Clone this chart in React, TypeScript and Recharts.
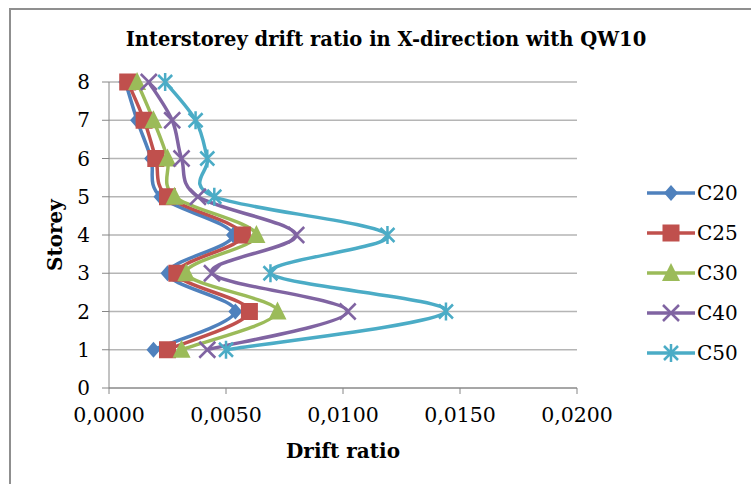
import React from "react";
import { LineChart, Line, XAxis, YAxis, CartesianGrid } from "recharts";

const storeys = [1, 2, 3, 4, 5, 6, 7, 8];
const c20 = [0.0019, 0.0054, 0.0025, 0.0053, 0.0022, 0.0018, 0.0012, 0.0007];
const c25 = [0.0025, 0.006, 0.0029, 0.0057, 0.0025, 0.002, 0.0015, 0.0008];
const c30 = [0.0031, 0.0072, 0.0033, 0.0063, 0.0028, 0.0025, 0.0019, 0.0012];
const c40 = [0.0042, 0.0102, 0.0044, 0.008, 0.0038, 0.0031, 0.0027, 0.0017];
const c50 = [0.005, 0.0144, 0.0069, 0.0119, 0.0045, 0.0042, 0.0037, 0.0024];

const xTicks = [0, 0.005, 0.01, 0.015, 0.02];
const yTicks = [0, 1, 2, 3, 4, 5, 6, 7, 8];

const SERIES = [
  { key: "c20", name: "C20", values: c20, color: "#4F81BD", marker: "diamond" },
  { key: "c25", name: "C25", values: c25, color: "#C0504D", marker: "square" },
  { key: "c30", name: "C30", values: c30, color: "#9BBB59", marker: "triangle" },
  { key: "c40", name: "C40", values: c40, color: "#8064A2", marker: "x" },
  { key: "c50", name: "C50", values: c50, color: "#4BACC6", marker: "star" },
];

const data = storeys.map((s, i) => {
  const row: any = { storey: s };
  SERIES.forEach((ser) => (row[ser.key] = ser.values[i]));
  return row;
});

const FONT = "'DejaVu Serif', serif";
const AXIS_GREY = "#868686";

// excel style smoothing (uniform catmull-rom as bezier)
const excelSmooth = (context: any) => {
  let pts: number[][] = [];
  return {
    areaStart() {},
    areaEnd() {},
    lineStart() {
      pts = [];
    },
    point(x: number, y: number) {
      pts.push([+x, +y]);
    },
    lineEnd() {
      if (!pts.length) return;
      context.moveTo(pts[0][0], pts[0][1]);
      for (let i = 0; i < pts.length - 1; i++) {
        const p0 = pts[Math.max(i - 1, 0)];
        const p1 = pts[i];
        const p2 = pts[i + 1];
        const p3 = pts[Math.min(i + 2, pts.length - 1)];
        context.bezierCurveTo(
          p1[0] + (p2[0] - p0[0]) / 6,
          p1[1] + (p2[1] - p0[1]) / 6,
          p2[0] - (p3[0] - p1[0]) / 6,
          p2[1] - (p3[1] - p1[1]) / 6,
          p2[0],
          p2[1]
        );
      }
    },
  };
};

function Marker({ kind, color, cx, cy }: any) {
  if (cx == null || cy == null) return null;
  switch (kind) {
    case "diamond":
      return (
        <polygon
          points={`${cx},${cy - 8} ${cx + 7},${cy} ${cx},${cy + 8} ${cx - 7},${cy}`}
          fill={color}
        />
      );
    case "square":
      return <rect x={cx - 8.5} y={cy - 8.5} width={17} height={17} fill={color} />;
    case "triangle":
      return (
        <polygon
          points={`${cx},${cy - 10} ${cx + 9},${cy + 8} ${cx - 9},${cy + 8}`}
          fill={color}
        />
      );
    case "x":
      return (
        <path
          d={`M${cx - 8},${cy - 8}L${cx + 8},${cy + 8}M${cx - 8},${cy + 8}L${cx + 8},${cy - 8}`}
          stroke={color}
          strokeWidth={2.5}
        />
      );
    default:
      return (
        <path
          d={`M${cx - 7},${cy - 7}L${cx + 7},${cy + 7}M${cx - 7},${cy + 7}L${cx + 7},${cy - 7}M${cx},${cy - 9}L${cx},${cy + 9}`}
          stroke={color}
          strokeWidth={2.5}
        />
      );
  }
}

const fmt = (v: number) => v.toFixed(4).replace(".", ",");

const LegendBox = () => (
  <div
    style={{
      position: "absolute",
      left: 646,
      top: 173,
      fontFamily: FONT,
      fontSize: 20,
      color: "#000",
    }}
  >
    {SERIES.map((s) => (
      <div key={s.key} style={{ display: "flex", alignItems: "center", height: 40 }}>
        <svg width={50} height={20}>
          <line x1={1} y1={10} x2={49} y2={10} stroke={s.color} strokeWidth={3.5} />
          <Marker kind={s.marker} color={s.color} cx={25} cy={10} />
        </svg>
        <span style={{ marginLeft: 1 }}>{s.name}</span>
      </div>
    ))}
  </div>
);

export default function App() {
  return (
    <div
      style={{
        position: "fixed",
        left: 0,
        top: 0,
        width: 751,
        height: 484,
        background: "#fff",
        overflow: "hidden",
      }}
    >
      <div
        style={{
          position: "absolute",
          left: 9,
          top: 8,
          width: 800,
          height: 600,
          borderLeft: "2px solid #8f8f8f",
          borderTop: "2px solid #8f8f8f",
        }}
      />
      <div
        style={{
          position: "absolute",
          left: 0,
          width: 751,
          top: 28,
          textAlign: "center",
          paddingLeft: 21,
          boxSizing: "border-box",
          fontFamily: FONT,
          fontWeight: "bold",
          fontSize: 19.5,
          color: "#000",
        }}
      >
        Interstorey drift ratio in X-direction with QW10
      </div>
      <div
        style={{
          position: "absolute",
          left: 55,
          top: 235,
          transform: "translate(-50%, -50%) rotate(-90deg)",
          fontFamily: FONT,
          fontWeight: "bold",
          fontSize: 20,
          whiteSpace: "nowrap",
        }}
      >
        Storey
      </div>
      <div
        style={{
          position: "absolute",
          left: 343,
          top: 451,
          transform: "translate(-50%, -50%)",
          fontFamily: FONT,
          fontWeight: "bold",
          fontSize: 20,
          whiteSpace: "nowrap",
        }}
      >
        Drift ratio
      </div>
      <LineChart
        width={751}
        height={484}
        data={data}
        layout="vertical"
        margin={{ top: 82, right: 174, bottom: 0, left: 0 }}
        style={{ position: "absolute", left: 0, top: 0 }}
      >
        <CartesianGrid vertical={false} stroke="#b5b5b5" strokeWidth={1.5} />
        <XAxis
          type="number"
          domain={[0, 0.02]}
          ticks={xTicks}
          tickFormatter={fmt}
          height={96}
          stroke={AXIS_GREY}
          tickSize={6}
          tickMargin={13}
          tick={{ fill: "#000", fontFamily: FONT, fontSize: 20.5 }}
        />
        <YAxis
          type="number"
          dataKey="storey"
          domain={[0, 8]}
          ticks={yTicks}
          reversed
          width={109}
          stroke={AXIS_GREY}
          tickSize={7}
          tickMargin={12}
          tick={{ fill: "#000", fontFamily: FONT, fontSize: 20 }}
        />
        {SERIES.map((s) => (
          <Line
            key={s.key}
            dataKey={s.key}
            name={s.name}
            type={excelSmooth as any}
            stroke={s.color}
            strokeWidth={3.5}
            isAnimationActive={false}
            dot={(p: any) => (
              <Marker key={`${s.key}-${p.index}`} kind={s.marker} color={s.color} cx={p.cx} cy={p.cy} />
            )}
            activeDot={false}
          />
        ))}
      </LineChart>
      <LegendBox />
    </div>
  );
}
